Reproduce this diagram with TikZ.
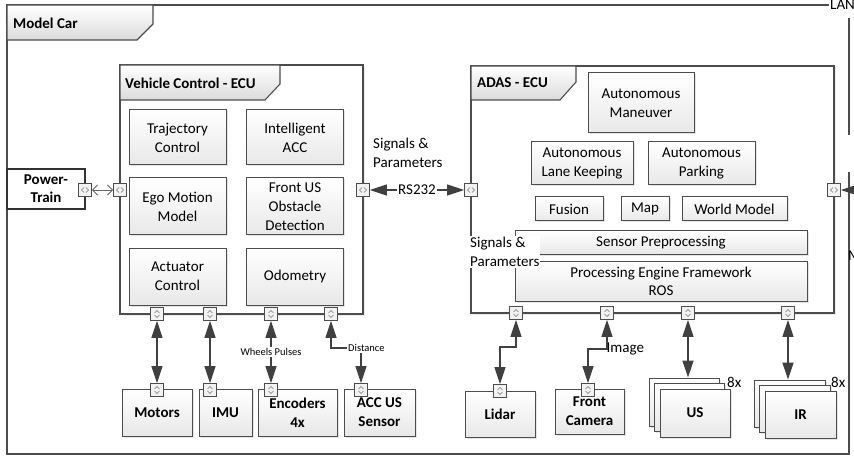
\documentclass[tikz,border=0pt]{standalone}
\usepackage{fontspec}
\setmainfont{Carlito}
\usetikzlibrary{arrows.meta,shadows}

\begin{document}
\begin{tikzpicture}[x=1pt,y=-1pt,
  every node/.style={font=\fontsize{15}{19}\selectfont, align=center},
  frameln/.style={draw=black!70, line width=1.1pt},
  tabshape/.style={draw=black!70, line width=1.1pt, top color=white, bottom color=black!14},
  title/.style={anchor=west, inner sep=0pt, font=\fontsize{15}{18}\selectfont\bfseries},
  ecu/.style={draw=black!70, line width=1.1pt, fill=white, inner sep=0pt,
    drop shadow={shadow xshift=1.5pt, shadow yshift=-1.5pt, opacity=0.15}},
  block/.style={draw=black!70, line width=1pt, top color=white, bottom color=black!9, inner sep=1pt,
    drop shadow={shadow xshift=1.5pt, shadow yshift=-1.5pt, opacity=0.2}},
  dev/.style={block, font=\fontsize{15}{19}\selectfont\bfseries},
  port/.style={draw=black!70, fill=black!5, line width=0.8pt, minimum size=13pt, inner sep=0pt},
  porth/.style={port, path picture={
    \draw[black!55, line width=0.5pt]
      ([shift={(-1pt,2.5pt)}]path picture bounding box.center) -- ++(-2.5pt,-2.5pt) -- ++(2.5pt,-2.5pt)
      ([shift={(1pt,2.5pt)}]path picture bounding box.center) -- ++(2.5pt,-2.5pt) -- ++(-2.5pt,-2.5pt);}},
  portv/.style={port, path picture={
    \draw[black!55, line width=0.5pt]
      ([shift={(-2.5pt,1pt)}]path picture bounding box.center) -- ++(2.5pt,2.5pt) -- ++(2.5pt,-2.5pt)
      ([shift={(-2.5pt,-1pt)}]path picture bounding box.center) -- ++(2.5pt,-2.5pt) -- ++(2.5pt,2.5pt);}},
  dbl/.style={{Triangle[length=17pt,width=11pt]}-{Triangle[length=17pt,width=11pt]}, draw=black!75, line width=1.4pt},
  tip/.style={-{Triangle[length=17pt,width=11pt]}, draw=black!75, line width=1.4pt},
  opendbl/.style={{Straight Barb[length=5pt,width=10pt]}-{Straight Barb[length=5pt,width=10pt]}, draw=black!60, line width=0.9pt},
  lbl/.style={fill=white, inner sep=1pt},
  lblsmall/.style={lbl, font=\fontsize{10.5}{12}\selectfont}]
\useasboundingbox (0,0) rectangle (854,457);

\draw[frameln] (829,5) -- (7,5) -- (7,454) -- (849,454) -- (849,172);
\draw[frameln] (849,135) -- (849,18);
\draw[tabshape] (7,5) -- (153,5) -- (153,24) -- (137,40) -- (7,40) -- cycle;
\node[title] (mcar) at (13,23) {Model Car};
\node[anchor=west, inner sep=1pt] (lan) at (829,5) {LAN};
\node[anchor=west, inner sep=0pt] (mlbl) at (848,256) {M};

\node[draw=black!80, fill=white, line width=1.1pt, minimum width=78, minimum height=40,
  font=\fontsize{15}{18}\selectfont\bfseries] (ptrain) at (46,189) {Power-\\Train};

\node[ecu, minimum width=243, minimum height=249] (vc) at (241.5,189.5) {};
\draw[tabshape] (120,65) -- (280,65) -- (280,84) -- (265,100) -- (120,100) -- cycle;
\node[title] (vctitle) at (125,83) {Vehicle Control - ECU};

\node[ecu, minimum width=363, minimum height=247] (adas) at (652.5,189.5) {};
\draw[tabshape] (471,66) -- (576,66) -- (576,82) -- (560,100) -- (471,100) -- cycle;
\node[title] (adastitle) at (477,83) {ADAS - ECU};

\node[block, minimum width=97, minimum height=55] (traj) at (177.5,137.5) {Trajectory\\Control};
\node[block, minimum width=97, minimum height=55] (iacc) at (295,137.5) {Intelligent\\ACC};
\node[block, minimum width=97, minimum height=57] (ego) at (177.5,206.5) {Ego Motion\\Model};
\node[block, minimum width=97, minimum height=57] (fus) at (295,206.5) {Front US\\Obstacle\\Detection};
\node[block, minimum width=97, minimum height=57] (actu) at (177.5,276.5) {Actuator\\Control};
\node[block, minimum width=97, minimum height=57] (odo) at (295,276.5) {Odometry};

\node[block, minimum width=106, minimum height=60] (man) at (641,103) {Autonomous\\Maneuver};
\node[block, minimum width=102, minimum height=43] (lane) at (582,163.5) {Autonomous\\Lane Keeping};
\node[block, minimum width=107, minimum height=43] (park) at (701.5,163.5) {Autonomous\\Parking};
\node[block, minimum width=68, minimum height=24] (fusion) at (569,209) {Fusion};
\node[block, minimum width=48, minimum height=24] (map) at (645,209) {Map};
\node[block, minimum width=105, minimum height=24] (world) at (734.5,209) {World Model};
\node[block, minimum width=292, minimum height=23] (sens) at (661,242.5) {Sensor Preprocessing};
\node[block, minimum width=292, minimum height=40, font=\fontsize{15}{18}\selectfont] (ros) at (661,281) {Processing Engine Framework\\ROS};

\node[dev, minimum width=70, minimum height=47] (mot) at (157,412.5) {Motors};
\node[dev, minimum width=53, minimum height=47] (imu) at (225.5,412.5) {IMU};
\node[dev, minimum width=79, minimum height=47] (enc) at (297.5,412.5) {Encoders\\4x};
\node[dev, minimum width=71, minimum height=47] (accus) at (379.5,412.5) {ACC US\\Sensor};
\node[dev, minimum width=70, minimum height=46] (lid) at (500,414) {Lidar};
\node[dev, minimum width=69, minimum height=45] (cam) at (589.5,411.5) {Front\\Camera};
\node[dev, minimum width=70, minimum height=48] (usb) at (684,402) {};
\node[dev, minimum width=70, minimum height=48] (usm) at (689.5,407.5) {};
\node[dev, minimum width=70, minimum height=48] (usf) at (695,413) {US};
\node[dev, minimum width=71, minimum height=47] (irb) at (789.5,403.5) {};
\node[dev, minimum width=71, minimum height=47] (irm) at (795,409) {};
\node[dev, minimum width=71, minimum height=47] (irf) at (800.5,414.5) {IR};
\node[anchor=west, inner sep=0pt] (us8) at (727,382) {8x};
\node[anchor=west, inner sep=0pt] (ir8) at (831,382) {8x};

\node[porth] (ptp) at (85,190) {};
\node[porth] (vcl) at (120,190) {};
\node[porth] (vcr) at (363,190) {};
\node[porth] (adl) at (471,190) {};
\node[porth] (adr) at (834,190) {};
\node[portv] (vc1) at (157,314) {};
\node[portv] (vc2) at (210,314) {};
\node[portv] (vc3) at (271,314) {};
\node[portv] (vc4) at (331,314) {};
\node[portv] (ad1) at (516,313) {};
\node[portv] (ad2) at (607,313) {};
\node[portv] (ad3) at (688,313) {};
\node[portv] (ad4) at (788,313) {};
\node[portv] (mot1) at (157,390) {};
\node[portv] (imu1) at (210,390) {};
\node[portv] (enc1) at (271,390) {};
\node[portv] (acc1) at (361,390) {};
\node[portv] (lid1) at (500,391) {};
\node[portv] (cam1) at (588,390) {};

\node[anchor=west, align=left, inner sep=1pt] (sig1) at (372,153) {Signals \&\\Parameters};
\node[lbl, anchor=west, align=left] (sig2) at (469,252) {Signals \&\\Parameters};

\draw[opendbl] (ptp) -- (vcl);
\draw[dbl] (vcr) -- node[lbl] (rs) {RS232} (adl);
\coordinate (lanin) at (858,190);
\draw[tip] (lanin) -- (adr);
\draw[dbl] (vc1) -- (mot1);
\draw[dbl] (vc2) -- (imu1);
\draw[dbl] (vc3) -- node[lblsmall] (whl) {Wheels Pulses} (enc1);
\node[lblsmall, anchor=west] (dst) at (347,348) {Distance};
\draw[{Triangle[length=17pt,width=11pt]}-, draw=black!75, line width=1.4pt] (vc4) |- (dst.west);
\draw[tip] (dst.south -| acc1) -- (acc1);
\draw[dbl] (ad1) -- ++(0,34) -| (lid1);
\node[lbl, anchor=west, inner sep=0.5pt] (img) at (606,349) {Image};
\draw[dbl] (ad2) |- (img.west) -| (cam1);
\draw[dbl] (ad3) -- (ad3 |- usb.north);
\draw[dbl] (ad4) -- (ad4 |- irb.north);
\end{tikzpicture}
\end{document}
